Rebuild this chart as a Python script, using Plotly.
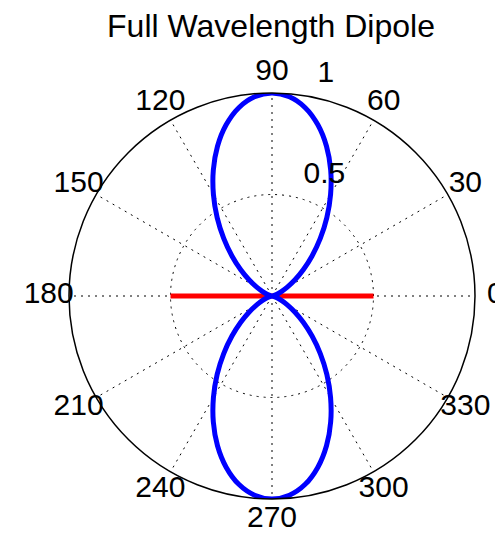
import plotly.graph_objects as go

# Radiation pattern (normalised) sampled every 5 degrees, 0..360
theta_deg = list(range(0, 361, 5))
pattern_r = [
    0.000, 0.000, 0.003, 0.011, 0.026, 0.051, 0.087, 0.137, 0.201, 0.279,
    0.370, 0.471, 0.577, 0.684, 0.785, 0.873, 0.942, 0.985, 1.000,
    0.985, 0.942, 0.873, 0.785, 0.684, 0.577, 0.471, 0.370, 0.279, 0.201,
    0.137, 0.087, 0.051, 0.026, 0.011, 0.003, 0.000, 0.000,
    0.000, 0.003, 0.011, 0.026, 0.051, 0.087, 0.137, 0.201, 0.279,
    0.370, 0.471, 0.577, 0.684, 0.785, 0.873, 0.942, 0.985, 1.000,
    0.985, 0.942, 0.873, 0.785, 0.684, 0.577, 0.471, 0.370, 0.279, 0.201,
    0.137, 0.087, 0.051, 0.026, 0.011, 0.003, 0.000, 0.000,
]

# Dipole element (half length 0.5 on each side)
dipole_r = [0.5, 0.0, 0.5]
dipole_theta = [0, 0, 180]

# Angular tick labels
angle_ticks = list(range(0, 360, 30))
angle_labels = [str(a) for a in angle_ticks]

# Radial tick labels
radial_ticks = [0.5, 1.0]
radial_labels = ["0.5", "1"]

TITLE = "Full Wavelength Dipole"
FONT = "Liberation Sans, Arial, Helvetica, sans-serif"

fig = go.Figure()

fig.add_trace(go.Scatterpolar(
    r=dipole_r, theta=dipole_theta, mode="lines",
    line=dict(color="rgb(255,0,0)", width=5), hoverinfo="skip",
))
fig.add_trace(go.Scatterpolar(
    r=pattern_r, theta=theta_deg, mode="lines",
    line=dict(color="rgb(0,0,255)", width=5, shape="spline", smoothing=0.8),
    hoverinfo="skip",
))

# Labels live on a second, invisible polar subplot with a larger radial range
LABEL_RMAX = 1.12
fig.add_trace(go.Scatterpolar(
    r=[1.1] * len(angle_ticks), theta=angle_ticks, mode="text",
    text=angle_labels, textposition="middle center",
    textfont=dict(family=FONT, size=30, color="black"),
    cliponaxis=False, hoverinfo="skip", subplot="polar2",
))
fig.add_trace(go.Scatterpolar(
    r=[v + 0.025 for v in radial_ticks], theta=[82] * len(radial_ticks), mode="text",
    text=["\u00a0\u00a0" + t for t in radial_labels], textposition="top right",
    textfont=dict(family=FONT, size=30, color="black"),
    cliponaxis=False, hoverinfo="skip", subplot="polar2",
))

OFF = 8  # page body margin
W, H = 503 - OFF, 540 - 2 * OFF
cx, cy, R = 272 - OFF, 296 - OFF, 203
R2 = R * LABEL_RMAX

grid = dict(showgrid=True, gridcolor="black", gridwidth=1, griddash="2px,5px")

fig.update_layout(
    width=W, height=H,
    margin=dict(l=0, r=0, t=0, b=0),
    paper_bgcolor="white", plot_bgcolor="white",
    showlegend=False,
    title=dict(text=TITLE, x=(271 - OFF) / W, y=1 - (26 - OFF) / H,
               xanchor="center", yanchor="middle",
               font=dict(family=FONT, size=32, color="black")),
    polar=dict(
        domain=dict(x=[(cx - R) / W, (cx + R) / W], y=[(H - cy - R) / H, (H - cy + R) / H]),
        bgcolor="white",
        radialaxis=dict(range=[0, 1], tickvals=[0.5], showticklabels=False, ticks="",
                        showline=False, **grid),
        angularaxis=dict(tickvals=angle_ticks, showticklabels=False, ticks="",
                         showline=True, linecolor="black", linewidth=1.5,
                         rotation=0, direction="counterclockwise", **grid),
    ),
    polar2=dict(
        domain=dict(x=[(cx - R2) / W, (cx + R2) / W],
                    y=[(H - cy - R2) / H, (H - cy + R2) / H]),
        bgcolor="rgba(0,0,0,0)",
        radialaxis=dict(range=[0, LABEL_RMAX], visible=False, showgrid=False),
        angularaxis=dict(visible=False, showgrid=False, showline=False,
                         rotation=0, direction="counterclockwise"),
    ),
)

fig.write_html("out.html")
